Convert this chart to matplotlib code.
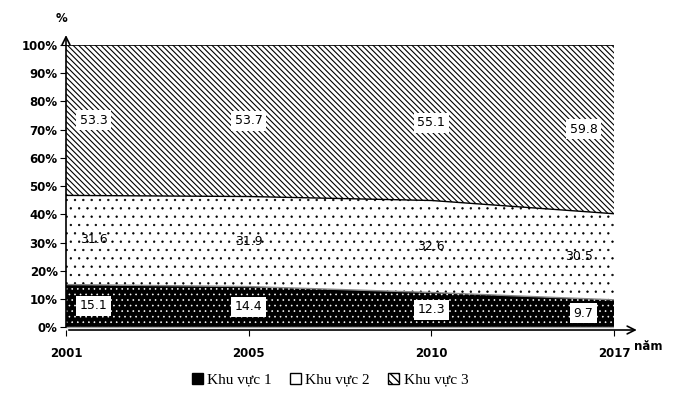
import numpy as np
import matplotlib
matplotlib.use('Agg')
import matplotlib.pyplot as plt
from matplotlib.patches import Patch

# data
years = ['2001', '2005', '2010', '2017']
kv1 = [15.1, 14.4, 12.3, 9.7]
kv2 = [31.6, 31.9, 32.6, 30.5]
kv3 = [53.3, 53.7, 55.1, 59.8]
legend_names = ['Khu vực 1', 'Khu vực 2', 'Khu vực 3']

x = np.arange(len(years))
b1 = np.array(kv1)
b2 = b1 + np.array(kv2)
b3 = b2 + np.array(kv3)

fig = plt.figure(figsize=(6.83, 4.0), dpi=100)
ax = fig.add_axes([66/683, 70/400, (614-66)/683, 285/400])

# areas
with plt.rc_context({'hatch.linewidth': 0.45}):
    ax.fill_between(x, 0, b1, facecolor='black', edgecolor='white', hatch='...', linewidth=0)
    ax.fill_between(x, b1, b2, facecolor='white', edgecolor='black', hatch='..', linewidth=0)
with plt.rc_context({'hatch.linewidth': 0.8}):
    ax.fill_between(x, b2, b3, facecolor='white', edgecolor='black', hatch='\\' * 6, linewidth=0)
ax.plot(x, b1, color='#888888', lw=1)
ax.plot(x, b2, color='black', lw=1)
ax.plot(x, b3, color='black', lw=1.2)
ax.axhline(0, color='#aaaaaa', lw=1)

ax.set_xlim(0, 3)
ax.set_ylim(-1, 100)

for s in ['top', 'right', 'left', 'bottom']:
    ax.spines[s].set_visible(False)

# axis arrows
ax.annotate('', xy=(3.14, -1), xytext=(0, -1), xycoords='data',
            arrowprops=dict(arrowstyle='->', color='black', lw=1.2, mutation_scale=14),
            annotation_clip=False)
ax.annotate('', xy=(0, 104.5), xytext=(0, -1), xycoords='data',
            arrowprops=dict(arrowstyle='->', color='black', lw=1.2, mutation_scale=14),
            annotation_clip=False)

ax.set_yticks(np.arange(0, 101, 10))
ax.set_yticklabels([f'{v}%' for v in range(0, 101, 10)], fontsize=8.5, fontweight='bold')
ax.tick_params(axis='y', length=4, width=0.8, pad=2)
ax.set_xticks(x)
ax.set_xticklabels(years, fontsize=8.5, fontweight='bold')
ax.tick_params(axis='x', length=4, width=0.8, pad=8)

fig.text(61/683, 1-18/400, '%', fontsize=8.5, fontweight='bold', ha='center', va='center')
fig.text(648/683, 1-347/400, 'năm', fontsize=8.5, fontweight='bold', ha='center', va='center')

# data labels
offs = [20, 0, 0, -22]
box = dict(facecolor='white', edgecolor='none', pad=2.5)
for i in range(len(years)):
    ax.annotate(f'{kv3[i]}', (x[i], b2[i] + kv3[i] / 2), xytext=(offs[i], 0),
                textcoords='offset points', ha='center', va='center', fontsize=9, bbox=box)
    ax.annotate(f'{kv2[i]}', (x[i], b1[i] + kv2[i] / 2), xytext=(offs[i] if i < 3 else -25, 0),
                textcoords='offset points', ha='center', va='center', fontsize=9)
    ax.annotate(f'{kv1[i]}', (x[i], kv1[i] / 2), xytext=(offs[i], 0),
                textcoords='offset points', ha='center', va='center', fontsize=9, bbox=box)

handles = [Patch(facecolor='black', edgecolor='black', hatch='..'),
           Patch(facecolor='white', edgecolor='black'),
           Patch(facecolor='white', edgecolor='black', hatch='\\\\\\\\')]
fig.legend(handles, legend_names, loc='center', bbox_to_anchor=(330/683, 1-380/400), ncol=3,
           frameon=False, prop={'family': 'Liberation Serif', 'size': 11},
           handlelength=0.7, handleheight=0.7, handletextpad=0.3, columnspacing=1.2)

fig.savefig('out.png', dpi=100)
